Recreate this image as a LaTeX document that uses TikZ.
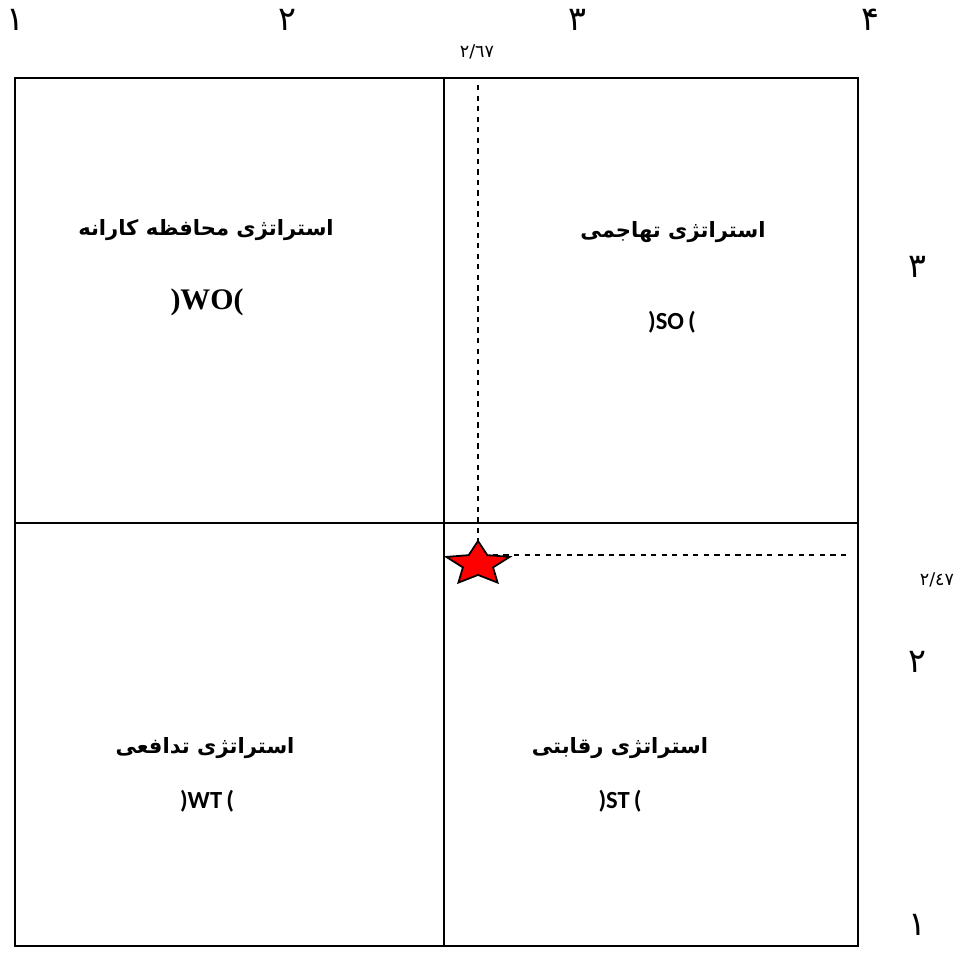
\documentclass[tikz,border=0pt]{standalone}
\usepackage{fontspec}
\usetikzlibrary{shapes.geometric}
\TeXXeTstate=1
\newfontfamily\arabicfont[Script=Arabic]{DejaVu Sans}
\newfontfamily\latinserif{Liberation Serif}
\newfontfamily\latinsans{Carlito}

\begin{document}
\begin{tikzpicture}[
  x=0.02cm, y=-0.02cm,
  title/.style={font=\arabicfont\bfseries\fontsize{12}{14}\selectfont, inner sep=0pt},
  code/.style={font=\latinsans\bfseries\fontsize{14}{16}\selectfont, inner sep=0pt},
  tick/.style={font=\arabicfont\fontsize{19}{21}\selectfont, inner sep=0pt},
  small/.style={font=\arabicfont\fontsize{10}{12}\selectfont, inner sep=0pt},
  frame/.style={line width=1.1pt},
  guide/.style={dashed, line width=0.6pt}
]
\useasboundingbox (0,0) rectangle (964,956);

% matrix frame
\draw[frame] (15,78) rectangle (858,946);
\draw[frame] (444,78) -- (444,946);
\draw[frame] (15,523) -- (858,523);

% scale values
\node[tick] (x1) at (15,20) {١};
\node[tick] (x2) at (287,20) {٢};
\node[tick] (x3) at (577,20) {٣};
\node[tick] (x4) at (870,20) {۴};
\node[tick] (y3) at (917,267) {٣};
\node[tick] (y2) at (917,662) {٢};
\node[tick] (y1) at (917,925) {١};
\node[small] (ifas) at (477,52) {٢/٦٧};
\node[small] (efas) at (937,580) {٢/٤٧};

% quadrants
\node[title] (wo) at (206,230) {\beginR استراتژی محافظه کارانه\endR};
\node[font=\latinserif\bfseries\fontsize{17}{19}\selectfont, inner sep=0pt] (wocode) at (207,302) {)WO(};
\node[title] (so) at (673,232) {\beginR استراتژی تهاجمی\endR};
\node[code] (socode) at (672,322) {)SO\,(};
\node[title] (wt) at (205,748) {\beginR استراتژی تدافعی\endR};
\node[code] (wtcode) at (207,801) {)WT\,(};
\node[title] (st) at (620,748) {\beginR استراتژی رقابتی\endR};
\node[code] (stcode) at (620,801) {)ST\,(};

% position of the organisation
\coordinate (top) at (478,85);
\coordinate (right) at (850,555);
\coordinate (meet) at (478,555);
\draw[guide] (top) -- (meet) -- (right);
\node[star, star points=5, star point ratio=2.1, draw, line width=1pt, fill=red,
      inner sep=0pt, minimum size=0.92cm, xscale=1.45] (pos) at (478,564) {};
\end{tikzpicture}
\end{document}
